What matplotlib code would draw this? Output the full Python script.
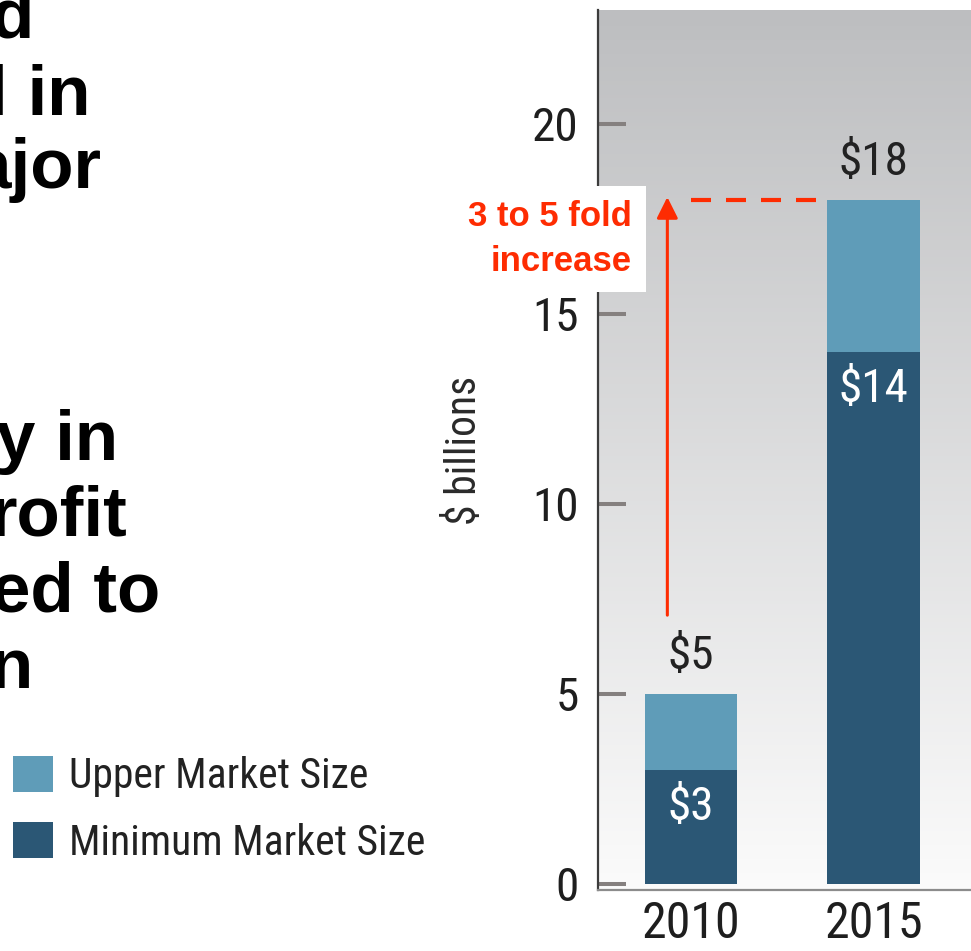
import numpy as np
import matplotlib.pyplot as plt

# data
years = ['2010', '2015']
min_size = [3, 14]          # $ billions, minimum market size
upper_size = [5, 18]        # $ billions, upper market size (bar total)
yticks = [0, 5, 10, 15, 20]
fold_from, fold_to = 7, 18  # red arrow span

# cropped slide text on the left (visible fragments only)
side_lines = ['d', 'l in', 'ajor', 'y in', 'rofit', 'ed to', 'n']
side_right = [33, 90, 102, 118, 127, 160, 33]      # px, right edge
side_base = [38, 115, 188, 460, 535, 612, 688]     # px, baseline

cond = ['Liberation Sans Narrow', 'Roboto Condensed', 'Noto Sans Condensed',
        'Open Sans Condensed', 'DejaVu Sans Condensed', 'DejaVu Sans']
bold = ['Liberation Sans', 'DejaVu Sans']

light_blue = '#5f9cb8'
dark_blue = '#2b5775'
red = '#fe2c02'

W, H = 971, 951
fig = plt.figure(figsize=(W / 100, H / 100), dpi=100)
ax = fig.add_axes([598 / W, (H - 890) / H, (W - 598) / W, 880 / H])

x = np.arange(len(years))
upper_part = np.array(upper_size) - np.array(min_size)
ax.set_xlim(-0.51, 1.534)
ax.set_ylim(-0.16, 23.0)

# gradient background
grad = np.linspace(0, 1, 256)[:, None]
top = np.array([189, 190, 192]) / 255
bot = np.array([251, 251, 251]) / 255
img = top + (bot - top) * grad[..., None]
ax.imshow(img, extent=[-0.51, 1.534, -0.16, 23.0], aspect='auto', zorder=0,
          origin='upper')

b_min = ax.bar(x, min_size, width=0.505, color=dark_blue, zorder=2,
               label='Minimum Market Size')
b_up = ax.bar(x, upper_part, bottom=min_size, width=0.505, color=light_blue,
              zorder=2, label='Upper Market Size')

for xi, tot, mn in zip(x, upper_size, min_size):
    ax.annotate(f'${tot}', xy=(xi, tot), xytext=(0, 27), textcoords='offset points',
                ha='center', va='center', fontsize=34, family=cond, color='#222222')
    ax.annotate(f'${mn}', xy=(xi, mn), xytext=(0, -27), textcoords='offset points',
                ha='center', va='center', fontsize=34, family=cond, color='white')

# fold-increase annotation
ax.plot([0.0, 0.707], [fold_to, fold_to], color=red, lw=3, dashes=(4.8, 3.6),
        zorder=3, clip_on=False)
ax.annotate('', xy=(-0.13, fold_to + 0.15), xytext=(-0.13, fold_from),
            arrowprops=dict(arrowstyle='-|>', color=red, lw=2.2, mutation_scale=32),
            zorder=3)
ax.text(-0.323, 16.97, '3 to 5 fold\nincrease', ha='right', va='center',
        multialignment='right', fontsize=25, fontweight='bold', family=bold,
        color=red, linespacing=1.45, zorder=5,
        bbox=dict(boxstyle='square,pad=0.4', fc='white', ec='none'))

ax.set_yticks(yticks)
ax.set_xticks(x)
ax.set_xticklabels(years, family=cond, fontsize=36, color='#1e1e1e')
ax.set_yticklabels([str(v) for v in yticks], family=cond, fontsize=34, color='#1e1e1e')
ax.tick_params(axis='y', direction='in', length=20, width=2.9, color='#85807f', pad=14)
ax.tick_params(axis='x', length=0, pad=7)
ax.set_ylabel('$ billions', family=cond, fontsize=30, color='#2a2a2a', labelpad=34)

for s in ['top', 'right']:
    ax.spines[s].set_visible(False)
ax.spines['left'].set_color('#3c3c3c')
ax.spines['left'].set_linewidth(1.6)
ax.spines['bottom'].set_color('#8c8c8c')
ax.spines['bottom'].set_linewidth(1.6)

# legend
fig.legend(handles=[b_up, b_min], labels=['Upper Market Size', 'Minimum Market Size'],
           loc='upper left', bbox_to_anchor=(13 / W, 1 - 756 / H), frameon=False,
           prop={'family': cond, 'size': 30}, handlelength=0.95, handleheight=0.95,
           handletextpad=0.4, labelspacing=0.6, borderaxespad=0, borderpad=0,
           labelcolor='#222222')

# cropped slide text
for txt, xr, yb in zip(side_lines, side_right, side_base):
    fig.text(xr / W, 1 - yb / H, txt, ha='right', va='baseline', fontsize=51,
             fontweight='bold', family=bold, color='black')

fig.savefig('out.png', dpi=100)
